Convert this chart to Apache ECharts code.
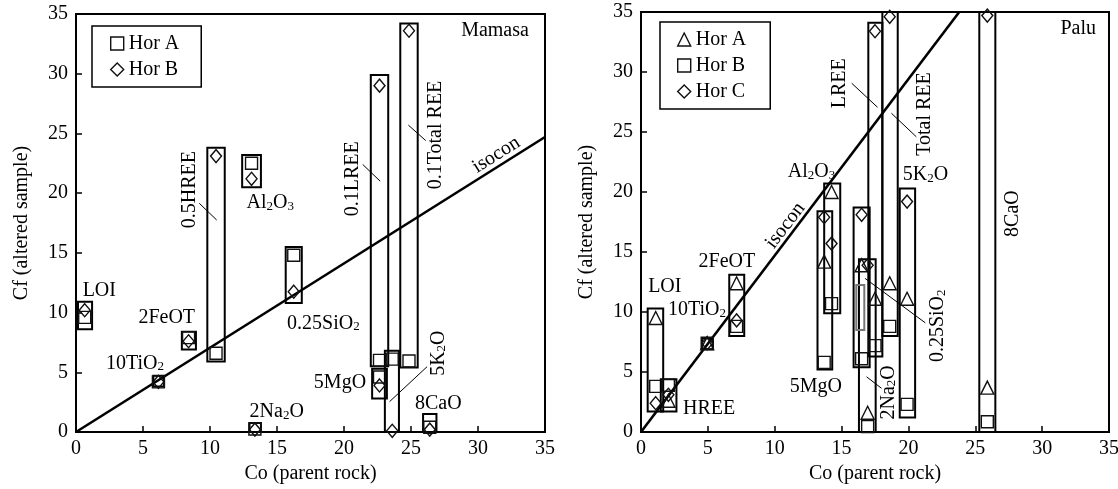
<!DOCTYPE html>
<html>
<head>
<meta charset="utf-8">
<script src="https://cdn.jsdelivr.net/npm/echarts@6/dist/echarts.min.js"></script>
<style>
  html, body { margin: 0; padding: 0; background: #fff; }
  #chart { width: 1118px; height: 489px; }
</style>
</head>
<body>
<div id="chart"></div>
<script>
// Mamasa: Hor A = square, Hor B = diamond
// order: LOI, 10TiO2, 2FeOT, 0.5HREE, Al2O3, 2Na2O, 0.25SiO2, 5MgO, 0.1LREE, 5K2O, 0.1Total REE, 8CaO
const mamasaCo   = [0.65, 6.15, 8.4, 10.45, 13.1, 13.35, 16.25, 22.65, 22.65, 23.6, 24.85, 26.4]
const mamasaHorA = [9.6, 4.2, 7.9, 6.6, 22.5, 0.25, 14.8, 4.6, 6.0, 6.1, 5.95, 0.4]
const mamasaHorB = [10.2, 4.2, 7.6, 23.1, 21.2, 0.2, 11.75, 3.9, 29.0, 0.1, 33.6, 0.2]
// range boxes: [Co from, Co to, Cf from, Cf to]
const mamasaBoxes = [
  [0.15, 1.2, 8.6, 10.9], [5.77, 6.57, 3.8, 4.7], [7.9, 8.95, 6.9, 8.4], [9.8, 11.1, 5.9, 23.8],
  [12.4, 13.8, 20.5, 23.2], [12.95, 13.8, -0.2, 0.75], [15.65, 16.85, 10.8, 15.5], [22.1, 23.2, 2.8, 5.3],
  [22.0, 23.3, 5.5, 29.9], [23.05, 24.1, -0.2, 6.8], [24.2, 25.5, 5.4, 34.2], [25.9, 26.9, -0.2, 1.5]
]
const mamasaIsocon = [[0, 0], [35, 24.7]]

// Palu: Hor A = triangle, Hor B = square, Hor C = diamond
// order: LOI, HREE, 10TiO2, 2FeOT, 5MgO, Al2O3, 0.25SiO2, 2Na2O, LREE, Total REE, 5K2O, 8CaO
const paluCo   = [1.1, 2.05, 4.95, 7.15, 13.7, 14.25, 16.5, 16.95, 17.5, 18.6, 19.9, 25.9]
const paluHorA = [9.5, 2.6, 7.4, 12.4, 14.2, 20.0, 13.9, 1.6, 11.1, 12.4, 11.1, 3.7]
const paluHorB = [3.8, 3.9, 7.4, 8.8, 5.8, 10.7, 6.1, 0.45, 7.2, 8.8, 2.3, 0.85]
const paluHorC = [2.4, 3.1, 7.4, 9.3, 17.9, 15.7, 18.1, 13.9, 33.4, 34.6, 19.2, 34.7]
const paluBoxes = [
  [0.5, 1.66, 1.7, 10.3], [1.48, 2.65, 1.7, 4.4], [4.58, 5.37, 6.9, 7.8], [6.6, 7.72, 8.0, 13.1],
  [13.2, 14.3, 5.2, 18.4], [13.7, 14.9, 9.9, 20.7], [15.9, 17.1, 5.4, 18.7], [16.3, 17.55, -0.3, 14.4],
  [17.0, 18.05, 6.3, 34.1], [18.05, 19.2, 8.0, 36], [19.35, 20.5, 1.2, 20.3], [25.3, 26.5, -0.2, 36]
]
const paluGrayBox = [[16.1, 16.7, 8.5, 12.25]]
const paluIsocon = [[0, 0], [23.8, 35]]

// annotations: [text, Co, Cf, rotation deg]
const mamasaLabels = [
  ['LOI', 1.74, 11.83, 0], ['2FeOT', 6.77, 9.6, 0], ['10TiO{s|2}', 4.4, 5.75, 0],
  ['2Na{s|2}O', 14.98, 1.7, 0], ['0.25SiO{s|2}', 18.46, 9.1, 0], ['5MgO', 19.7, 4.13, 0],
  ['8CaO', 27.04, 2.4, 0], ['5K{s|2}O', 27.04, 6.6, 90], ['Al{s|2}O{s|3}', 14.5, 19.2, 0],
  ['0.5HREE', 8.5, 20.3, 90], ['0.1LREE', 20.63, 21.2, 90], ['0.1Total REE', 26.83, 24.87, 90],
  ['isocon', 31.37, 23.2, 32.3], ['Mamasa', 31.27, 33.6, 0]
]
const paluLabels = [
  ['LOI', 1.78, 12.1, 0], ['10TiO{s|2}', 4.19, 10.17, 0], ['HREE', 5.1, 1.9, 0],
  ['2FeOT', 6.42, 14.2, 0], ['5MgO', 13.07, 3.78, 0], ['Al{s|2}O{s|3}', 12.75, 21.7, 0],
  ['LREE', 14.83, 29.06, 90], ['Total REE', 21.2, 26.5, 90], ['5K{s|2}O', 21.27, 21.4, 0],
  ['0.25SiO{s|2}', 22.2, 8.85, 90], ['2Na{s|2}O', 18.5, 3.3, 90], ['8CaO', 27.8, 18.2, 90],
  ['isocon', 10.8, 17.2, 52.6], ['Palu', 32.7, 33.6, 0]
]
// leader lines: [Co1, Cf1, Co2, Cf2]
const mamasaLeaders = [
  [9.2, 19.15, 10.5, 17.75], [21.4, 22.4, 22.7, 21.0], [24.8, 25.7, 26.1, 24.4], [26.2, 5.47, 23.4, 2.54]
]
const paluLeaders = [
  [15.76, 29.06, 17.69, 27.06], [18.73, 26.56, 20.59, 24.6], [16.76, 12.8, 21.26, 9.1], [16.87, 4.6, 17.99, 3.64]
]

const FONT = '"Liberation Serif", "Times New Roman", serif'

const chart = echarts.init(document.getElementById('chart'))

function pairs(xs, ys) {
  return xs.map((x, i) => [x, ys[i]])
}

function boxSeries(boxes, idx, color) {
  return {
    type: 'custom',
    xAxisIndex: idx,
    yAxisIndex: idx,
    silent: true,
    data: boxes,
    encode: { x: [0, 1], y: [2, 3] },
    renderItem: function(params, api) {
      const a = api.coord([api.value(0), api.value(3)])
      const b = api.coord([api.value(1), api.value(2)])
      const cs = params.coordSys
      const shape = echarts.graphic.clipRectByRect(
        { x: a[0], y: a[1], width: b[0] - a[0], height: b[1] - a[1] },
        { x: cs.x, y: cs.y, width: cs.width, height: cs.height }
      )
      if (!shape) return null
      return { type: 'rect', shape: shape, style: { fill: 'none', stroke: color, lineWidth: 2 } }
    }
  }
}

function leaderSeries(lines, idx) {
  return {
    type: 'custom',
    xAxisIndex: idx,
    yAxisIndex: idx,
    silent: true,
    data: lines,
    encode: { x: [0, 2], y: [1, 3] },
    renderItem: function(params, api) {
      const p = api.coord([api.value(0), api.value(1)])
      const q = api.coord([api.value(2), api.value(3)])
      return {
        type: 'line',
        shape: { x1: p[0], y1: p[1], x2: q[0], y2: q[1] },
        style: { stroke: '#000', lineWidth: 1 }
      }
    }
  }
}

function labelSeries(labels, idx) {
  return {
    type: 'custom',
    xAxisIndex: idx,
    yAxisIndex: idx,
    silent: true,
    data: labels.map(l => [l[1], l[2]]),
    renderItem: function(params, api) {
      const l = labels[params.dataIndex]
      const p = api.coord([api.value(0), api.value(1)])
      return {
        type: 'text',
        x: p[0],
        y: p[1],
        rotation: l[3] * Math.PI / 180,
        style: {
          text: l[0],
          fontSize: 20,
          fontFamily: FONT,
          fill: '#000',
          align: 'center',
          verticalAlign: 'middle',
          rich: {
            s: { fontSize: 13, fontFamily: FONT, fill: '#000', verticalAlign: 'bottom', padding: [6, 0, 0, 0] }
          }
        }
      }
    }
  }
}

function pointSeries(name, data, symbol, size, idx) {
  return {
    name: name,
    type: 'scatter',
    xAxisIndex: idx,
    yAxisIndex: idx,
    symbol: symbol,
    symbolSize: size,
    data: data,
    itemStyle: { color: 'rgba(0,0,0,0)', borderColor: '#111', borderWidth: 1.4, opacity: 1 },
    z: 5
  }
}

function isoconSeries(data, idx) {
  return {
    type: 'line',
    xAxisIndex: idx,
    yAxisIndex: idx,
    data: data,
    showSymbol: false,
    clip: true,
    lineStyle: { color: '#000', width: 2.6 },
    silent: true
  }
}

const axisCommon = {
  min: 0,
  max: 35,
  interval: 5,
  axisLine: { lineStyle: { color: '#000', width: 2 } },
  axisTick: { inside: true, length: 6, lineStyle: { color: '#000', width: 1.5 } },
  axisLabel: { color: '#000', fontSize: 20, fontFamily: FONT, margin: 8 },
  splitLine: { show: false },
  nameLocation: 'middle',
  nameTextStyle: { color: '#000', fontSize: 20, fontFamily: FONT }
}

const legendCommon = {
  orient: 'vertical',
  borderColor: '#000',
  borderWidth: 1.5,
  itemWidth: 13,
  itemHeight: 13,
  itemGap: 5,
  selectedMode: false,
  textStyle: { color: '#000', fontSize: 20, fontFamily: FONT, lineHeight: 21 },
  itemStyle: { color: 'rgba(0,0,0,0)', borderColor: '#111', borderWidth: 1.4 }
}

chart.setOption({
  animation: false,
  backgroundColor: '#fff',
  grid: [
    { left: 76, top: 14, width: 469, height: 418, show: true, borderColor: '#000', borderWidth: 2, outerBoundsMode: 'none' },
    { left: 641, top: 12, width: 468, height: 420, show: true, borderColor: '#000', borderWidth: 2, outerBoundsMode: 'none' }
  ],
  xAxis: [
    Object.assign({}, axisCommon, { gridIndex: 0, type: 'value', name: 'Co (parent rock)', nameGap: 31,
      axisLabel: Object.assign({}, axisCommon.axisLabel, { margin: 7 }) }),
    Object.assign({}, axisCommon, { gridIndex: 1, type: 'value', name: 'Co (parent rock)', nameGap: 31,
      axisLabel: Object.assign({}, axisCommon.axisLabel, { margin: 7 }) })
  ],
  yAxis: [
    Object.assign({}, axisCommon, { gridIndex: 0, type: 'value', name: 'Cf (altered sample)', nameGap: 44 }),
    Object.assign({}, axisCommon, { gridIndex: 1, type: 'value', name: 'Cf (altered sample)', nameGap: 44 })
  ],
  legend: [
    Object.assign({}, legendCommon, {
      left: 92, top: 26, padding: [7, 22, 7, 18],
      data: [{ name: 'Hor A', icon: 'rect' }, { name: 'Hor B', icon: 'diamond' }]
    }),
    Object.assign({}, legendCommon, {
      left: 660, top: 22, padding: [7, 24, 7, 17],
      data: [{ name: 'Hor A', icon: 'triangle' }, { name: 'Hor B', icon: 'rect' }, { name: 'Hor C', icon: 'diamond' }]
    })
  ],
  series: [
    // Mamasa
    isoconSeries(mamasaIsocon, 0),
    boxSeries(mamasaBoxes, 0, '#000'),
    pointSeries('Hor A', pairs(mamasaCo, mamasaHorA), 'rect', 12, 0),
    pointSeries('Hor B', pairs(mamasaCo, mamasaHorB), 'diamond', [11, 13], 0),
    leaderSeries(mamasaLeaders, 0),
    labelSeries(mamasaLabels, 0),
    // Palu
    isoconSeries(paluIsocon, 1),
    boxSeries(paluBoxes, 1, '#000'),
    boxSeries(paluGrayBox, 1, '#777'),
    pointSeries('Hor A', pairs(paluCo, paluHorA), 'triangle', 13, 1),
    pointSeries('Hor B', pairs(paluCo, paluHorB), 'rect', 12, 1),
    pointSeries('Hor C', pairs(paluCo, paluHorC), 'diamond', [11, 13], 1),
    leaderSeries(paluLeaders, 1),
    labelSeries(paluLabels, 1)
  ]
})
</script>
</body>
</html>
